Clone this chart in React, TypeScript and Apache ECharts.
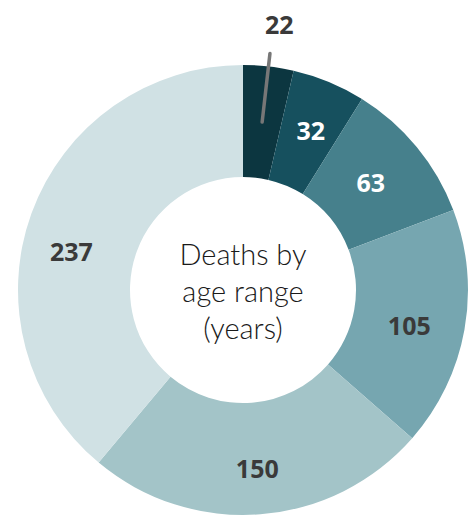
import React, { useEffect, useRef } from "react";
import * as echarts from "echarts";

const categories = ["A", "B", "C", "D", "E", "F"];
const values = [22, 32, 63, 105, 150, 237];
const colors = ["#0c3640", "#16505e", "#46808c", "#76a6b0", "#a3c4c8", "#d0e1e4"];
const labelColors = ["#3a3a3a", "#ffffff", "#ffffff", "#3a3a3a", "#3a3a3a", "#3a3a3a"];
const labelOffsets: number[][] = [[0, 0], [2, -1], [-5, 1], [-3, 5], [1, 7], [-10, 20]];
const centerText = "Deaths by\nage range\n(years)";
const valueFont = "'Open Sans', sans-serif";

export default function App() {
  const ref = useRef<HTMLDivElement>(null);
  useEffect(() => {
    const chart = echarts.init(ref.current!, null, { renderer: "svg" });
    const mainData = values.map((v, i) => ({
      name: categories[i],
      value: v,
      itemStyle: { color: colors[i] },
      label: {
        show: i !== 0,
        color: labelColors[i],
        offset: labelOffsets[i],
      },
    }));
    const lineData = values.map((v, i) => ({
      name: categories[i],
      value: v,
      label: { show: i === 0 },
      labelLine: { show: i === 0 },
    }));
    chart.setOption({
      animation: false,
      graphic: [
        {
          type: "text",
          x: 243,
          y: 290,
          silent: true,
          style: {
            text: centerText,
            fontFamily: "Lato",
            fontSize: 29,
            fontWeight: 300,
            lineHeight: 37,
            fill: "#1a1a1a",
            align: "center",
            verticalAlign: "middle",
          },
        },
      ],
      series: [
        {
          type: "pie",
          center: [243, 290],
          radius: [113, 225],
          startAngle: 90,
          clockwise: true,
          silent: true,
          itemStyle: { borderWidth: 0 },
          label: {
            position: "inside",
            formatter: "{c}",
            fontFamily: valueFont,
            fontWeight: "bold",
            fontSize: 25,
          },
          labelLine: { show: false },
          data: mainData,
        },
        {
          type: "pie",
          center: [243, 290],
          radius: [0, 169],
          startAngle: 90,
          clockwise: true,
          silent: true,
          itemStyle: { color: "rgba(0,0,0,0)" },
          label: {
            position: "outside",
            formatter: "{c}\n\n",
            fontFamily: valueFont,
            fontWeight: "bold",
            fontSize: 25,
            lineHeight: 30,
            color: "#3a3a3a",
            distanceToLabelLine: -5,
          },
          labelLine: {
            length: 69,
            length2: 0,
            lineStyle: { color: "#777777", width: 3.5, cap: "round" },
          },
          z: 5,
          data: lineData,
        },
      ],
    });
    return () => chart.dispose();
  }, []);
  return (
    <div
      ref={ref}
      style={{ position: "absolute", left: 0, top: 0, width: 469, height: 517 }}
    />
  );
}
